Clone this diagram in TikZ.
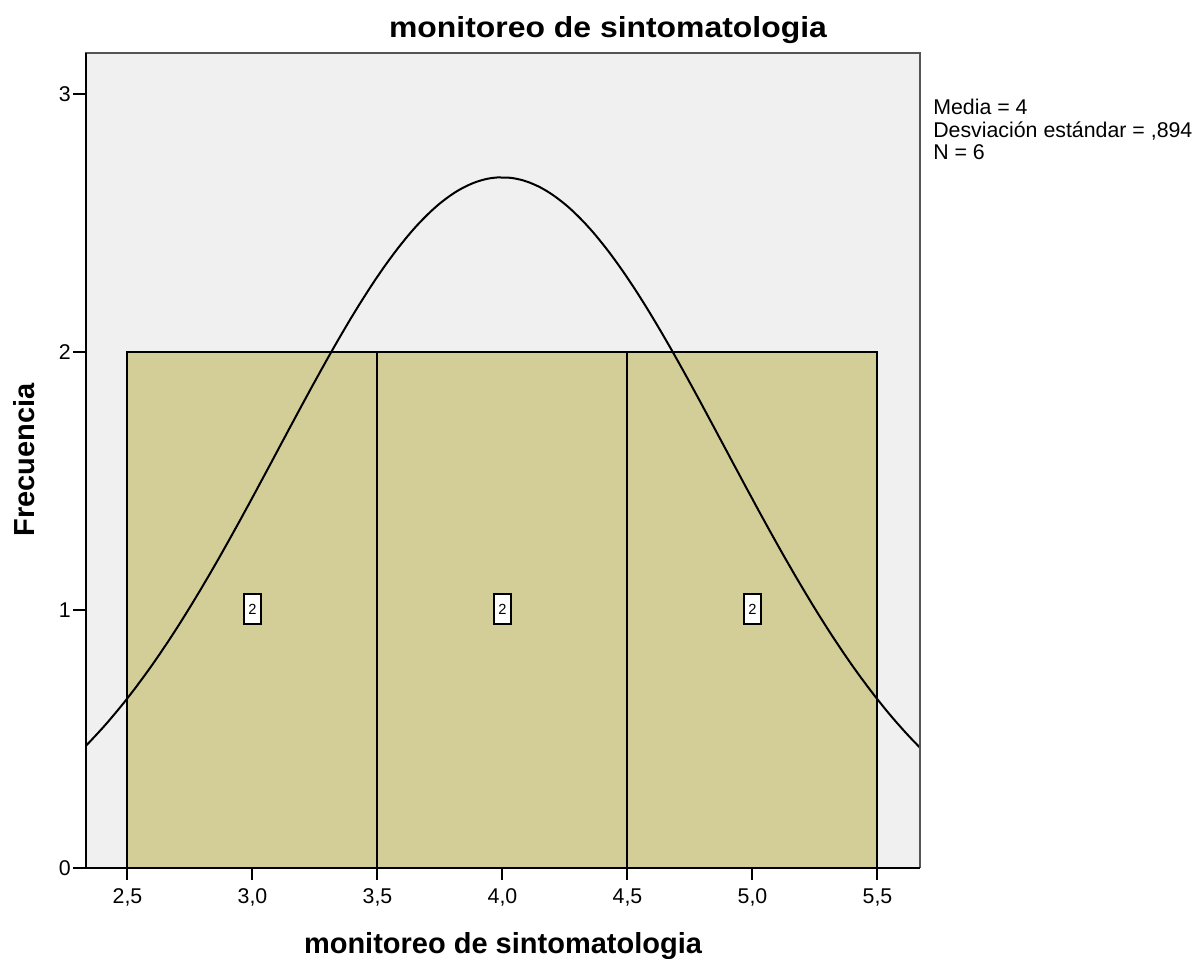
\documentclass[tikz,border=0pt]{standalone}
\usepackage{fontspec}
\setmainfont{Liberation Sans}
\definecolor{plotbg}{HTML}{F0F0F0}
\definecolor{barfill}{HTML}{D3CE97}
\definecolor{framegray}{HTML}{555555}
\begin{document}
\begin{tikzpicture}[x=0.75pt,y=-0.75pt,
  titlefont/.style={font=\fontsize{21.75}{26}\selectfont\bfseries},
  axislabel/.style={font=\fontsize{21.75}{26}\selectfont\bfseries},
  ticklabel/.style={font=\fontsize{16}{18}\selectfont, inner sep=0pt},
  legendtext/.style={font=\fontsize{16}{18}\selectfont, inner sep=0pt, anchor=base west},
  countbox/.style={draw=black, fill=white, line width=0.9pt, minimum width=12.75pt, minimum height=22.5pt, inner sep=0pt, font=\fontsize{11}{12}\selectfont},
  barline/.style={draw=black, line width=1.1pt},
  tickline/.style={draw=black, line width=1pt}]
\useasboundingbox[fill=white] (0,0) rectangle (1200,959);
% plot background
\fill[plotbg] (86,53) rectangle (920,868);
% bars
\fill[barfill] (127,352) rectangle (877,868);
\draw[barline] (127,868) -- (127,352) -- (877,352) -- (877,868);
\draw[barline] (377,352) -- (377,868);
\draw[barline] (627,352) -- (627,868);
% normal curve
\begin{scope}
\clip (86,53) rectangle (920,868);
\draw[black, line width=1.5pt] plot[domain=86:920, samples=240, smooth] (\x, {868 - 258*2.6763*exp(-((\x-502)/250)^2/1.6)});
\end{scope}
% frame
\draw[framegray, line width=1.3pt] (86,868) -- (86,53) -- (920,53) -- (920,868);
\draw[black, line width=1.3pt] (86,53) -- (86,868) -- (920,868);
% count boxes
\node[countbox] (c1) at (252.5,609) {2};
\node[countbox] (c2) at (502.5,609) {2};
\node[countbox] (c3) at (752.5,609) {2};
% y ticks
\foreach \v/\yy in {0/868,1/610,2/352,3/94}{
  \draw[tickline] (73,\yy) -- (86,\yy);
  \node[ticklabel, anchor=east] (yl\v) at (71,\yy) {\v};
}
% x ticks
\foreach \xx in {127,252,377,502,627,752,877}{
  \draw[tickline] (\xx,868) -- (\xx,880);
}
\node[ticklabel, anchor=base] (xl1) at (127.5,903) {2,5};
\node[ticklabel, anchor=base] (xl2) at (252.5,903) {3,0};
\node[ticklabel, anchor=base] (xl3) at (377.5,903) {3,5};
\node[ticklabel, anchor=base] (xl4) at (502.5,903) {4,0};
\node[ticklabel, anchor=base] (xl5) at (627.5,903) {4,5};
\node[ticklabel, anchor=base] (xl6) at (752.5,903) {5,0};
\node[ticklabel, anchor=base] (xl7) at (877.5,903) {5,5};
% titles
\node[titlefont, anchor=base, inner sep=0pt, xscale=1.1] (title) at (608,38) {monitoreo de sintomatologia};
\node[axislabel, anchor=base, inner sep=0pt] (xlabel) at (503,953) {monitoreo de sintomatologia};
\node[axislabel, rotate=90, inner sep=0pt] (ylabel) at (24,460) {Frecuencia};
% legend
\node[legendtext] (m) at (933,115) {Media = 4};
\node[legendtext] (s) at (933,137.5) {Desviación estándar = ,894};
\node[legendtext] (n) at (933,160) {N = 6};
\end{tikzpicture}
\end{document}
